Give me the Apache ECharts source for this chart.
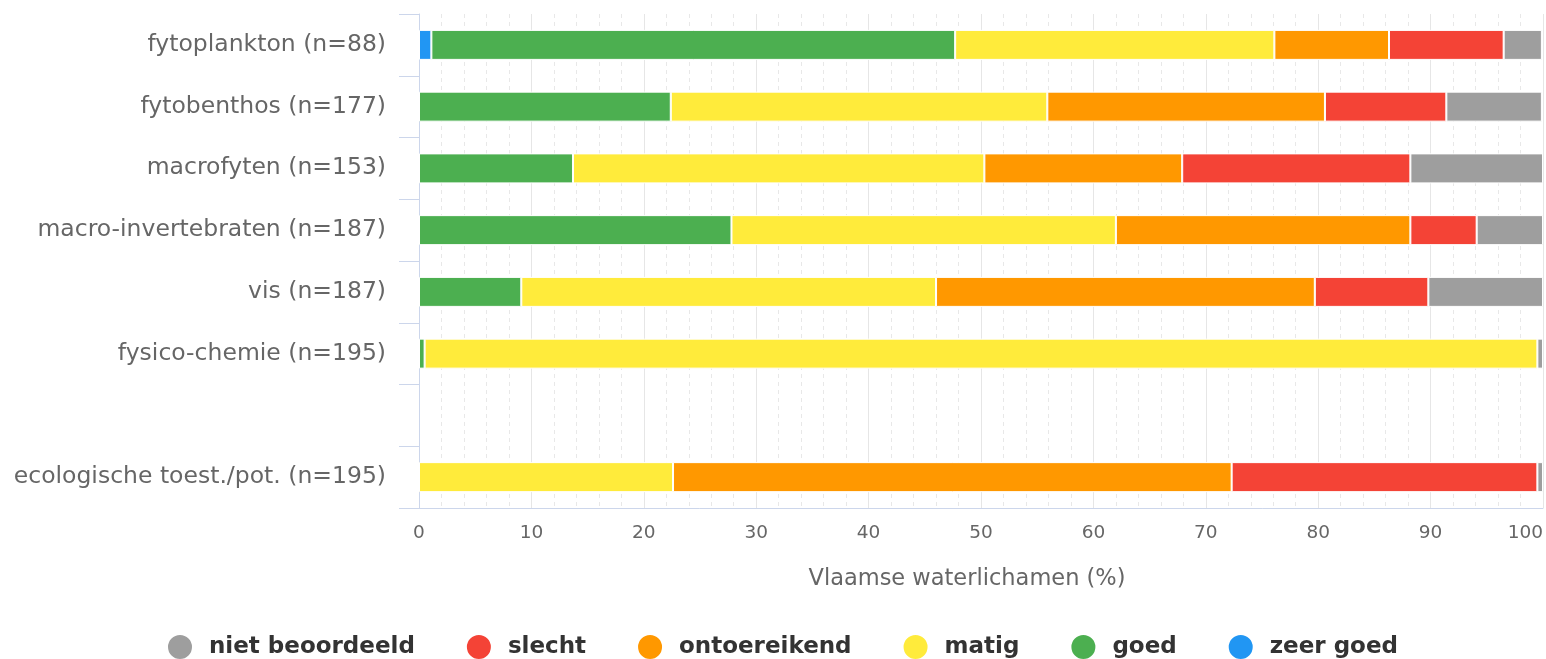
<!DOCTYPE html>
<html>
<head>
<meta charset="utf-8">
<script src="https://cdn.jsdelivr.net/npm/echarts@6/dist/echarts.min.js"></script>
<style>
html,body{margin:0;padding:0;background:#fff;}
#chart{width:1546px;height:659px;}
</style>
</head>
<body>
<div id="chart"></div>
<script>
const categories = [
  'fytoplankton (n=88)',
  'fytobenthos (n=177)',
  'macrofyten (n=153)',
  'macro-invertebraten (n=187)',
  'vis (n=187)',
  'fysico-chemie (n=195)',
  '',
  'ecologische toest./pot. (n=195)'
];
const xTicks = [0, 10, 20, 30, 40, 50, 60, 70, 80, 90, 100];
// percentages per category (stack order left -> right)
const zeerGoed       = [1.1, null, null, null, null, null, null, null];
const goed           = [46.6, 22.4, 13.7, 27.8, 9.1, 0.5, null, null];
const matig          = [28.4, 33.5, 36.6, 34.2, 36.9, 99.0, null, 22.6];
const ontoereikend   = [10.2, 24.7, 17.6, 26.2, 33.7, null, null, 49.7];
const slecht         = [10.2, 10.8, 20.3, 5.9, 10.1, null, null, 27.2];
const nietBeoordeeld = [3.4, 8.5, 11.8, 5.9, 10.2, 0.5, null, 0.5];

const seriesDefs = [
  {name: 'zeer goed', data: zeerGoed, color: '#2196f3'},
  {name: 'goed', data: goed, color: '#4caf50'},
  {name: 'matig', data: matig, color: '#ffeb3b'},
  {name: 'ontoereikend', data: ontoereikend, color: '#ff9800'},
  {name: 'slecht', data: slecht, color: '#f44336'},
  {name: 'niet beoordeeld', data: nietBeoordeeld, color: '#9e9e9e'}
];
const legendOrder = ['niet beoordeeld', 'slecht', 'ontoereikend', 'matig', 'goed', 'zeer goed'];

const FONT = 'DejaVu Sans';
const chart = echarts.init(document.getElementById('chart'), null, {renderer: 'canvas'});
chart.setOption({
  animation: false,
  backgroundColor: '#ffffff',
  grid: {left: 419, right: 3, top: 14, bottom: 151, containLabel: false},
  legend: {
    data: legendOrder,
    top: 633,
    left: 166,
    icon: 'circle',
    itemWidth: 26,
    itemHeight: 26,
    itemGap: 50,
    padding: 0,
    textStyle: {fontFamily: FONT, fontSize: 23, fontWeight: 'bold', color: '#333333', padding: [0, 0, 0, 11]}
  },
  xAxis: {
    type: 'value',
    min: 0,
    max: 100,
    interval: 10,
    name: 'Vlaamse waterlichamen (%)',
    nameLocation: 'middle',
    nameGap: 60,
    nameTextStyle: {fontFamily: FONT, fontSize: 22.5, color: '#666666', padding: [0, 28, 0, 0]},
    axisLine: {show: true, lineStyle: {color: '#ccd6eb', width: 1}},
    axisTick: {show: false},
    axisLabel: {
      fontFamily: FONT, fontSize: 18.5, color: '#666666', margin: 16,
      alignMaxLabel: 'right',
      formatter: function (v) { return xTicks.indexOf(v) >= 0 ? String(v) : ''; }
    },
    splitLine: {show: true, lineStyle: {color: '#e6e6e6', width: 1}},
    minorTick: {show: false, splitNumber: 5},
    minorSplitLine: {show: true, lineStyle: {color: '#e8e8e8', width: 1, type: [4, 4]}}
  },
  yAxis: {
    type: 'category',
    data: categories,
    inverse: true,
    axisLine: {show: true, lineStyle: {color: '#ccd6eb', width: 1}},
    axisTick: {show: true, length: 20, lineStyle: {color: '#ccd6eb', width: 1}},
    axisLabel: {fontFamily: FONT, fontSize: 23.5, color: '#666666', margin: 33},
    splitLine: {show: false}
  },
  series: seriesDefs.map(function (s) {
    return {
      name: s.name,
      type: 'bar',
      stack: 'total',
      data: s.data,
      barWidth: 30,
      itemStyle: {color: s.color, borderColor: '#ffffff', borderWidth: 1},
      emphasis: {disabled: true}
    };
  })
});
</script>
</body>
</html>
